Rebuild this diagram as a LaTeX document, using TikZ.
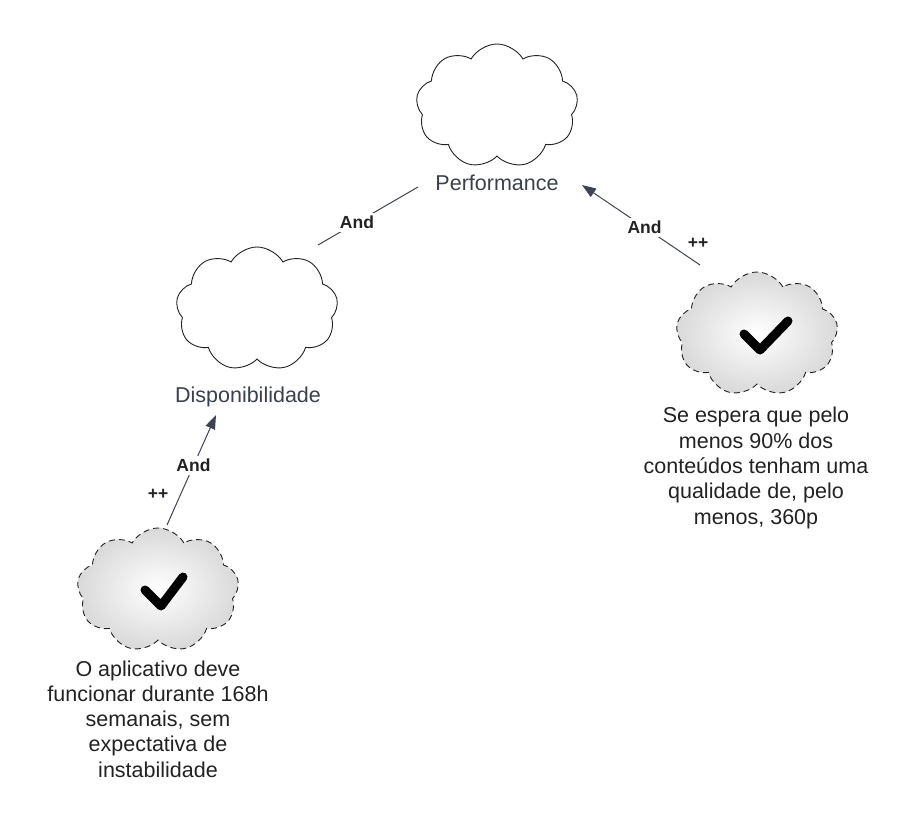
\documentclass[tikz,border=0pt]{standalone}
\usepackage{fontspec}
\setmainfont{Liberation Sans}
\usepackage{tikz}
\usetikzlibrary{positioning,arrows.meta,shapes.symbols,calc}
\definecolor{linec}{HTML}{3F4550}
\definecolor{textc}{HTML}{3A414A}
\definecolor{inkc}{HTML}{222222}
\tikzset{
  softgoal/.style={cloud, cloud puffs=9, cloud puff arc=120, aspect=1.36,
                   draw=inkc, line width=0.9pt, minimum width=162pt, minimum height=124pt,
                   inner sep=0pt, fill=white},
  goalcloud/.style={softgoal, dashed, dash pattern=on 6pt off 4pt,
                    shading=radial, inner color=white, outer color=gray!30},
  gtxt/.style={font=\fontsize{21.5}{25.3}\selectfont, text=textc, align=center},
  ltxt/.style={gtxt, text=inkc},
  arr/.style={-{Triangle[length=14pt, width=10pt]}, draw=linec, line width=1pt},
  conn/.style={draw=linec, line width=1pt},
  lbl/.style={font=\fontsize{17.5}{19}\selectfont\bfseries, text=inkc, fill=white, inner sep=3pt},
  tick/.style={line width=9pt, line cap=round, line join=round, draw=black},
}

\begin{document}
\begin{tikzpicture}[x=1pt, y=-1pt]
  \useasboundingbox (0,0) rectangle (919,829);

  % top softgoals
  \node[softgoal] (perfc) at (497,106) {};
  \node[gtxt] (perf) at (497,183) {Performance};
  \node[softgoal] (dispc) at (257,309) {};
  \node[gtxt] (disp) at (248,397) {Disponibilidade};

  % operationalised goals
  \node[goalcloud] (gr) at (757,334) {};
  \draw[tick] ([shift={(-13,0)}]gr.center) -- ([shift={(3,16)}]gr.center) -- ([shift={(31,-13)}]gr.center);
  \node[ltxt] (grt) at (756,468) {Se espera que pelo\\menos 90\% dos\\conteúdos tenham uma\\qualidade de, pelo\\menos, 360p};

  \node[goalcloud] (gl) at (158,590) {};
  \draw[tick] ([shift={(-13,0)}]gl.center) -- ([shift={(3,16)}]gl.center) -- ([shift={(25,-13)}]gl.center);
  \node[ltxt] (glt) at (158,719) {O aplicativo deve\\funcionar durante 168h\\semanais, sem\\expectativa de\\instabilidade};

  % contributions
  \draw[conn] ([shift={(61,-64)}]dispc.center) -- node[lbl, pos=0.39] (and1) {And} ([shift={(-79,4)}]perf.center);
  \draw[arr] ([shift={(-57,-69)}]gr.center) -- node[lbl, pos=0.47] (and2) {And} ([shift={(85,2)}]perf.center);
  \node[lbl, fill=none] (pp2) at (698,243) {++};
  \draw[arr] ([shift={(9,-65)}]gl.center) -- node[lbl, pos=0.54] (and3) {And} ([shift={(-32,18)}]disp.center);
  \node[lbl, fill=none] (pp3) at (158,494) {++};
\end{tikzpicture}
\end{document}
